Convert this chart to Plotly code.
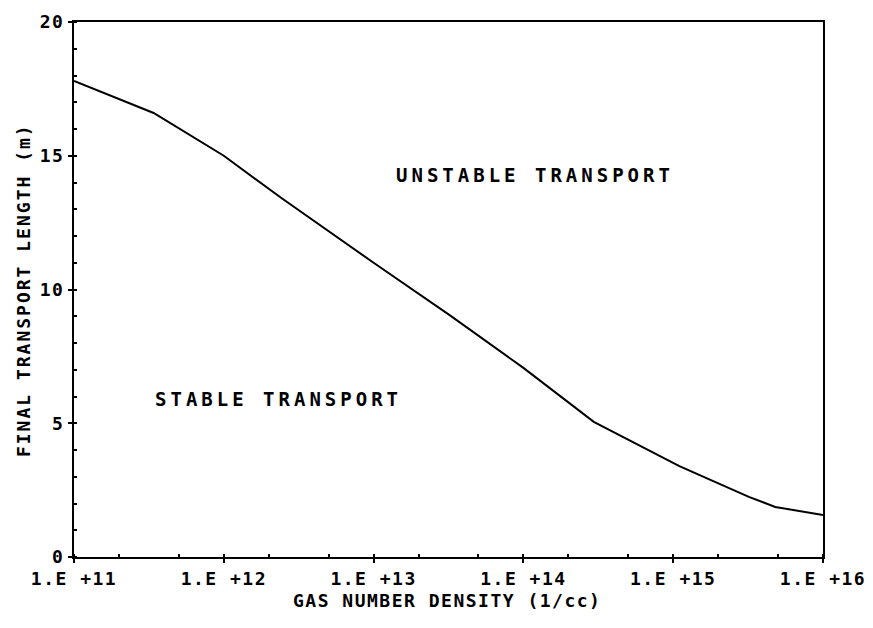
import plotly.graph_objects as go

# data
density = [1e11, 3.4e11, 1e12, 2.45e12, 1e13, 3.2e13, 1e14, 2.95e14, 1.1e15, 3.2e15, 4.8e15, 1e16]
length = [17.8, 16.6, 15.0, 13.4, 11.0, 9.05, 7.07, 5.05, 3.4, 2.25, 1.87, 1.57]

x_tickvals = [1e11, 1e12, 1e13, 1e14, 1e15, 1e16]
x_ticktext = ["1.E +11", "1.E +12", "1.E +13", "1.E +14", "1.E +15", "1.E +16"]
y_tickvals = [0, 5, 10, 15, 20]
y_ticktext = ["0", "5", "10", "15", "20"]

font_fam = "DejaVu Sans Mono"


def spaced(t, ls):
    return '<span style="letter-spacing:%spx"><b>%s</b></span>' % (ls, t)


fig = go.Figure()
fig.add_trace(go.Scatter(x=density, y=length, mode="lines",
                         line=dict(color="black", width=2), showlegend=False))

fig.add_annotation(x=14.08, y=14.28, xref="x", yref="y", text=spaced("UNSTABLE TRANSPORT", 4),
                   showarrow=False, font=dict(family=font_fam, size=19, color="black"))
fig.add_annotation(x=12.365, y=5.91, xref="x", yref="y", text=spaced("STABLE TRANSPORT", 4),
                   showarrow=False, font=dict(family=font_fam, size=19, color="black"))
fig.add_annotation(x=0.498, y=-0.082, xref="paper", yref="paper",
                   xanchor="center", yanchor="middle",
                   text=spaced("GAS NUMBER DENSITY (1/cc)", 1.5),
                   showarrow=False, font=dict(family=font_fam, size=18, color="black"))
fig.add_annotation(x=-0.068, y=0.499, xref="paper", yref="paper", textangle=-90,
                   xanchor="center", yanchor="middle",
                   text=spaced("FINAL TRANSPORT LENGTH (m)", 2),
                   showarrow=False, font=dict(family=font_fam, size=18, color="black"))

# page body has an 8px margin, so the figure is 16px smaller than the window
fig.update_layout(
    width=857, height=612,
    margin=dict(l=66, r=42, t=14, b=63),
    paper_bgcolor="white", plot_bgcolor="white",
    font=dict(family=font_fam, color="black"),
)
fig.update_xaxes(
    type="log", range=[11, 16], automargin=False,
    tickvals=x_tickvals, ticktext=[spaced(t, 1.5) for t in x_ticktext],
    tickfont=dict(family=font_fam, size=18, color="black"),
    ticklabeloverflow="allow",
    ticks="outside", ticklen=4, tickwidth=2, tickcolor="black",
    minor=dict(ticks="inside", ticklen=3, tickwidth=2, tickcolor="black", showgrid=False),
    showline=True, linecolor="black", linewidth=2, mirror=True,
    showgrid=False, zeroline=False,
)
fig.update_yaxes(
    range=[0, 20], automargin=False,
    tickvals=y_tickvals, ticktext=[spaced(t, 1.5) for t in y_ticktext],
    tickfont=dict(family=font_fam, size=18, color="black"),
    ticklabeloverflow="allow",
    ticks="outside", ticklen=4, tickwidth=2, tickcolor="black",
    minor=dict(dtick=1, ticks="inside", ticklen=3, tickwidth=2, tickcolor="black", showgrid=False),
    showline=True, linecolor="black", linewidth=2, mirror=True,
    showgrid=False, zeroline=False,
)

fig.write_html("out.html")
